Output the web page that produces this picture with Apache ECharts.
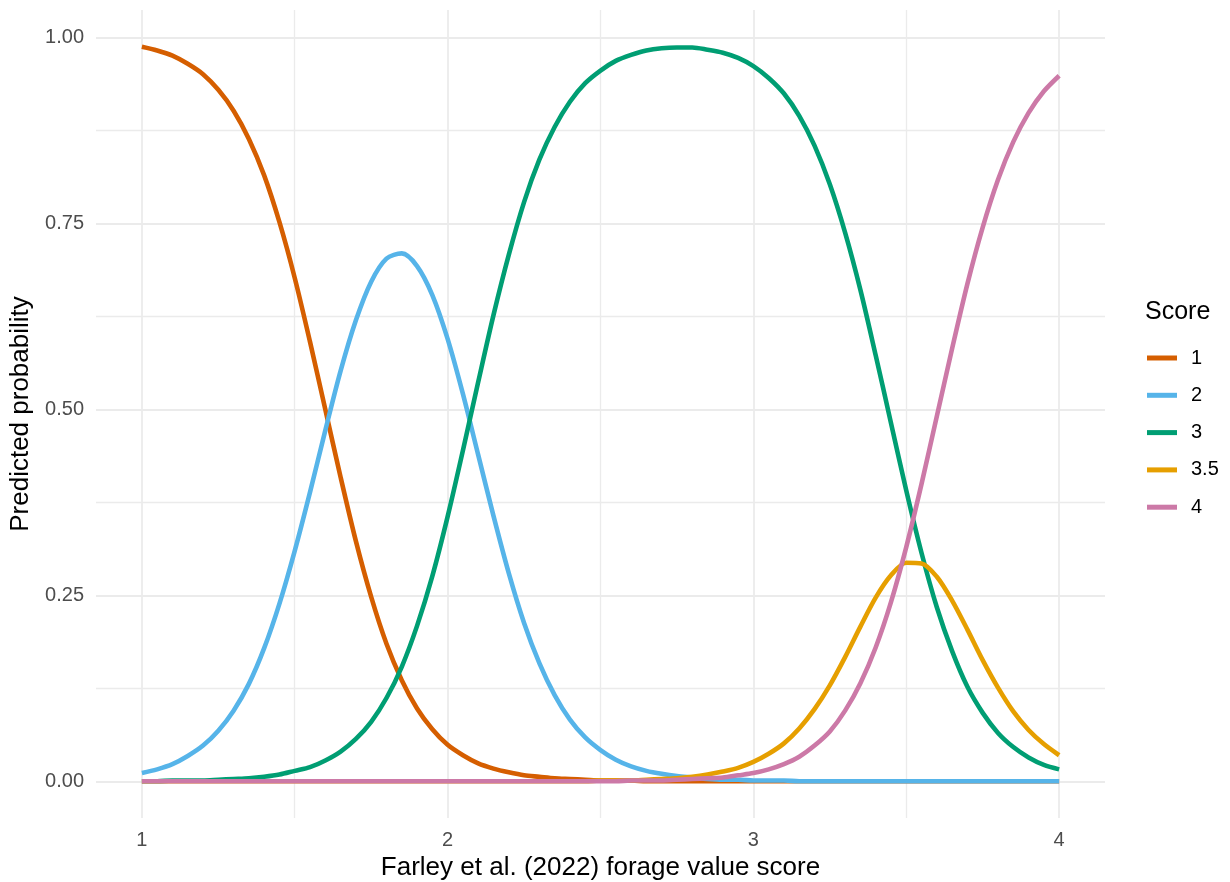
<!DOCTYPE html>
<html>
<head>
<meta charset="utf-8">
<script src="https://cdn.jsdelivr.net/npm/echarts@6/dist/echarts.min.js"></script>
<style>
  html, body { margin: 0; padding: 0; background: #ffffff; }
  #chart { width: 1230px; height: 882px; }
</style>
</head>
<body>
<div id="chart"></div>
<script>
// Farley et al. (2022) forage value score (x) at which probabilities are given
const forageScore = [
  1.00,1.05,1.10,1.15,1.20,1.25,1.30,1.35,1.40,1.45,
  1.50,1.55,1.60,1.65,1.70,1.75,1.80,1.85,1.90,1.95,
  2.00,2.05,2.10,2.15,2.20,2.25,2.30,2.35,2.40,2.45,
  2.50,2.55,2.60,2.65,2.70,2.75,2.80,2.85,2.90,2.95,
  3.00,3.05,3.10,3.15,3.20,3.25,3.30,3.35,3.40,3.45,
  3.50,3.55,3.60,3.65,3.70,3.75,3.80,3.85,3.90,3.95,
  4.00
];

// Predicted probability of each score
const probScore1 = [
  0.988,0.983,0.976,0.965,0.951,0.930,0.902,0.864,0.815,0.752,
  0.677,0.591,0.500,0.409,0.323,0.248,0.185,0.136,0.098,0.070,
  0.049,0.035,0.024,0.017,0.012,0.008,0.006,0.004,0.003,0.002,
  0.001,0.001,0.001,0,0,0,0,0,0,0,
  0,0,0,0,0,0,0,0,0,0,
  0,0,0,0,0,0,0,0,0,0,
  0
];
const probScore2 = [
  0.011,0.016,0.023,0.034,0.048,0.068,0.095,0.131,0.179,0.239,
  0.310,0.389,0.472,0.552,0.620,0.672,0.703,0.710,0.693,0.654,
  0.595,0.521,0.439,0.357,0.280,0.213,0.159,0.116,0.083,0.059,
  0.042,0.029,0.020,0.014,0.010,0.007,0.005,0.003,0.002,0.002,
  0.001,0.001,0.001,0,0,0,0,0,0,0,
  0,0,0,0,0,0,0,0,0,0,
  0
];
const probScore3 = [
  0.000,0.000,0.001,0.001,0.001,0.002,0.003,0.004,0.006,0.009,
  0.014,0.019,0.028,0.040,0.057,0.080,0.112,0.154,0.209,0.276,
  0.356,0.445,0.537,0.627,0.708,0.779,0.836,0.880,0.914,0.939,
  0.956,0.969,0.977,0.983,0.986,0.987,0.987,0.984,0.980,0.973,
  0.962,0.946,0.925,0.895,0.855,0.803,0.738,0.661,0.573,0.482,
  0.391,0.307,0.234,0.175,0.127,0.092,0.065,0.046,0.032,0.022,
  0.016
];
const probScore35 = [
  0,0,0,0,0,0,0,0,0,0,
  0,0,0,0,0,0,0,0,0,0,
  0,0,0,0,0,0,0,0,0,0,
  0.001,0.001,0.001,0.002,0.003,0.004,0.006,0.009,0.013,0.018,
  0.026,0.037,0.051,0.071,0.097,0.129,0.167,0.208,0.247,0.277,
  0.294,0.293,0.275,0.243,0.204,0.163,0.126,0.094,0.069,0.050,
  0.035
];
const probScore4 = [
  0,0,0,0,0,0,0,0,0,0,
  0,0,0,0,0,0,0,0,0,0,
  0,0,0,0,0,0,0,0,0,0,
  0,0,0.001,0.001,0.001,0.002,0.003,0.004,0.005,0.008,
  0.011,0.016,0.023,0.033,0.048,0.067,0.095,0.132,0.180,0.241,
  0.315,0.400,0.491,0.582,0.669,0.745,0.809,0.860,0.899,0.928,
  0.949
];

const scoreNames = ['1', '2', '3', '3.5', '4'];
const scoreColors = ['#D55E00', '#56B4E9', '#009E73', '#E69F00', '#CC79A7'];
const scoreProbs = [probScore1, probScore2, probScore3, probScore35, probScore4];

// Axis breaks
const xMajorTicks = [1, 2, 3, 4];
const xMinorTicks = [1.5, 2.5, 3.5];
const yMajorTicks = [0, 0.25, 0.5, 0.75, 1];
const yMinorTicks = [0.125, 0.375, 0.625, 0.875];

// Panel limits (data range padded by 5% on each side)
const xMin = 0.85, xMax = 4.15;
const yMin = -0.0494, yMax = 1.0374;

const FONT = '"Liberation Sans", Arial, Helvetica, sans-serif';
const GRID_COLOR = '#EBEBEB';

const chart = echarts.init(document.getElementById('chart'), null, { renderer: 'canvas' });

const series = scoreNames.map((name, i) => ({
  name: name,
  type: 'line',
  xAxisIndex: 0,
  yAxisIndex: 0,
  data: forageScore.map((x, j) => [x, scoreProbs[i][j]]),
  showSymbol: false,
  symbol: 'none',
  smooth: 0.3,
  lineStyle: { color: scoreColors[i], width: 4.6, cap: 'butt', join: 'round' },
  itemStyle: { color: scoreColors[i] },
  emphasis: { disabled: true }
}));

const option = {
  backgroundColor: '#ffffff',
  animation: false,
  textStyle: { fontFamily: FONT },
  title: {
    text: 'Score',
    left: 1145,
    top: 300,
    padding: 0,
    textStyle: { fontFamily: FONT, fontSize: 25, fontWeight: 'normal', color: '#000000' }
  },
  legend: {
    orient: 'vertical',
    left: 1147,
    top: 348,
    padding: 0,
    itemWidth: 30,
    itemHeight: 5,
    itemGap: 17.3,
    icon: 'rect',
    data: scoreNames,
    textStyle: {
      fontFamily: FONT, fontSize: 20, color: '#000000',
      lineHeight: 20, padding: [0, 0, 0, 9]
    },
    selectedMode: false
  },
  grid: {
    left: 96,
    right: 125,
    top: 10,
    bottom: 64,
    containLabel: false,
    outerBoundsMode: 'none'
  },
  xAxis: [
    {
      type: 'value',
      min: xMin,
      max: xMax,
      position: 'bottom',
      name: 'Farley et al. (2022) forage value score',
      nameLocation: 'middle',
      nameGap: 33,
      nameTextStyle: { fontFamily: FONT, fontSize: 26, color: '#000000' },
      axisLine: { show: false },
      axisTick: { show: false, customValues: xMajorTicks },
      axisLabel: {
        customValues: xMajorTicks,
        margin: 12,
        fontFamily: FONT, fontSize: 20, color: '#4D4D4D',
        formatter: v => String(v)
      },
      splitLine: { show: true, lineStyle: { color: GRID_COLOR, width: 1.8 } }
    },
    {
      type: 'value',
      min: xMin,
      max: xMax,
      position: 'bottom',
      axisLine: { show: false },
      axisTick: { show: false, customValues: xMinorTicks },
      axisLabel: { show: false, customValues: xMinorTicks },
      splitLine: { show: true, lineStyle: { color: GRID_COLOR, width: 1.3 } }
    }
  ],
  yAxis: [
    {
      type: 'value',
      min: yMin,
      max: yMax,
      position: 'left',
      name: 'Predicted probability',
      nameLocation: 'middle',
      nameRotate: 90,
      nameGap: 57,
      nameTextStyle: { fontFamily: FONT, fontSize: 26, color: '#000000' },
      axisLine: { show: false },
      axisTick: { show: false, customValues: yMajorTicks },
      axisLabel: {
        customValues: yMajorTicks,
        margin: 12,
        fontFamily: FONT, fontSize: 20, color: '#4D4D4D',
        formatter: v => v.toFixed(2)
      },
      splitLine: { show: true, lineStyle: { color: GRID_COLOR, width: 1.8 } }
    },
    {
      type: 'value',
      min: yMin,
      max: yMax,
      position: 'left',
      axisLine: { show: false },
      axisTick: { show: false, customValues: yMinorTicks },
      axisLabel: { show: false, customValues: yMinorTicks },
      splitLine: { show: true, lineStyle: { color: GRID_COLOR, width: 1.3 } }
    }
  ],
  series: series
};

chart.setOption(option);
</script>
</body>
</html>
